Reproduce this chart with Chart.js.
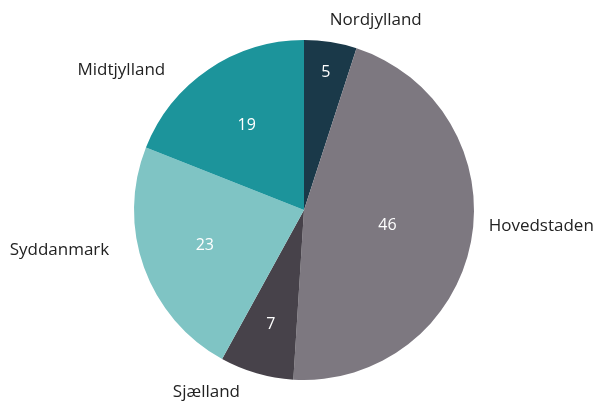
<!DOCTYPE html>
<html>
<head>
<meta charset="utf-8">
<script src="https://cdn.jsdelivr.net/npm/chart.js@4"></script>
<style>
  html, body { margin: 0; padding: 0; background: #fff; }
  #wrap { width: 593px; height: 402px; }
</style>
</head>
<body>
<div id="wrap"><canvas id="regionChart"></canvas></div>
<script>
  const regions = ["Nordjylland", "Hovedstaden", "Sjælland", "Syddanmark", "Midtjylland"];
  const counts = [5, 46, 7, 23, 19];
  const colours = ["#1a3949", "#7d7880", "#47424a", "#7fc4c4", "#1c949b"];

  // where to put the number inside each slice (fraction of radius)
  const valueRadius = [0.82, 0.5, 0.7, 0.62, 0.6];
  // nudges for the outside region names
  const nameNudge = [[-4, -2], [-2, -19], [-11, 0], [-16, -24], [-32, 17]];

  const sliceLabels = {
    id: "sliceLabels",
    afterDatasetsDraw(chart) {
      const ctx = chart.ctx;
      const arcs = chart.getDatasetMeta(0).data;
      ctx.save();
      arcs.forEach(function(arc, i) {
        const p = arc.getProps(["x", "y", "startAngle", "endAngle", "outerRadius"], true);
        const mid = (p.startAngle + p.endAngle) / 2;
        const cos = Math.cos(mid), sin = Math.sin(mid);

        // value inside
        const r1 = p.outerRadius * valueRadius[i];
        ctx.font = "16px 'Open Sans'";
        ctx.fillStyle = "#ffffff";
        ctx.textAlign = "center";
        ctx.textBaseline = "middle";
        ctx.fillText(counts[i], p.x + cos * r1, p.y + sin * r1);

        // region name outside
        const r2 = p.outerRadius + 20;
        ctx.font = "17px 'Open Sans'";
        ctx.fillStyle = "#222222";
        ctx.textAlign = cos >= 0 ? "left" : "right";
        ctx.fillText(regions[i], p.x + cos * r2 + nameNudge[i][0], p.y + sin * r2 + nameNudge[i][1]);
      });
      ctx.restore();
    }
  };

  new Chart(document.getElementById("regionChart"), {
    type: "pie",
    data: {
      labels: regions,
      datasets: [{
        data: counts,
        backgroundColor: colours,
        borderWidth: 0
      }]
    },
    options: {
      responsive: true,
      maintainAspectRatio: false,
      animation: false,
      layout: { padding: { top: 40, bottom: 22, left: 15, right: 0 } },
      plugins: {
        legend: { display: false },
        tooltip: { enabled: false }
      }
    },
    plugins: [sliceLabels]
  });
</script>
</body>
</html>
